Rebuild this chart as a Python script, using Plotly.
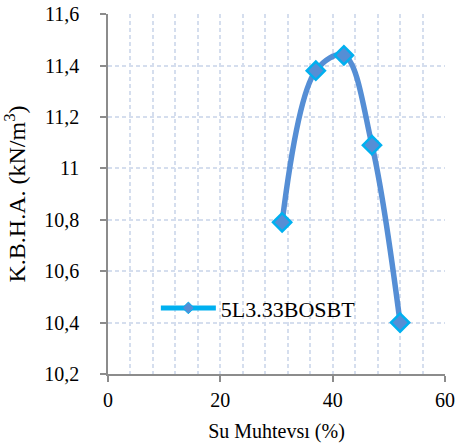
import plotly.graph_objects as go

water_content = [31, 37, 42, 47, 52]
unit_weight = [10.79, 11.38, 11.44, 11.09, 10.40]
series_name = "5L3.33BOSBT"
x_title = "Su Muhtevsı (%)"
y_title = "K.B.H.A. (kN/m<sup>3</sup>)"
x_ticks = [0, 20, 40, 60]
y_ticks = [10.2, 10.4, 10.6, 10.8, 11.0, 11.2, 11.4, 11.6]

LINE = "#558ED5"
MARK = "#00B0F0"
GRID = "#D5DEEE"
AXIS = "#8C8C8C"
FONT = "Liberation Serif"

fig = go.Figure()
fig.add_trace(go.Scatter(
    x=water_content, y=unit_weight, mode="lines+markers",
    line=dict(color=LINE, width=5.5, shape="spline", smoothing=1.0),
    marker=dict(symbol="diamond", size=14, color=LINE, line=dict(color=MARK, width=2.5)),
    showlegend=False, name=series_name,
))
fig.add_trace(go.Scatter(
    x=[None], y=[None], mode="lines+markers", name=series_name,
    line=dict(color=MARK, width=5),
    marker=dict(symbol="diamond", size=9, color=LINE, line=dict(color=MARK, width=1)),
))

fig.update_layout(
    width=466, height=448,
    margin=dict(l=108, r=21, t=14, b=74, autoexpand=False),
    paper_bgcolor="white", plot_bgcolor="white",
    separators=", ",
    font=dict(family=FONT, size=20, color="black"),
    legend=dict(x=0.142, y=0.183, xanchor="left", yanchor="middle",
                bgcolor="rgba(0,0,0,0)", font=dict(family=FONT, size=22, color="black"), itemwidth=55),
    xaxis=dict(
        range=[0, 60], tickvals=x_ticks, showgrid=True, automargin=False,
        gridcolor=GRID, griddash="4px,3px", gridwidth=1.5,
        minor=dict(dtick=4, tick0=0, showgrid=True, gridcolor=GRID, griddash="4px,3px", gridwidth=1.5),
        showline=True, linecolor=AXIS, linewidth=1.5,
        ticks="outside", ticklen=6, tickcolor=AXIS, tickwidth=1.5,
        tickfont=dict(family=FONT, size=20, color="black"),
        zeroline=False, ticklabelstandoff=1, ticklabeloverflow="allow",
        title=dict(text=x_title, standoff=14, font=dict(family=FONT, size=20, color="black")),
    ),
    yaxis=dict(
        range=[10.2, 11.6005], tickvals=y_ticks, showgrid=True, automargin=False,
        gridcolor=GRID, griddash="4px,3px", gridwidth=1.5,
        showline=True, linecolor=AXIS, linewidth=1.5,
        ticks="outside", ticklen=6, tickcolor=AXIS, tickwidth=1.5,
        tickfont=dict(family=FONT, size=20, color="black"),
        zeroline=False, ticklabelstandoff=17, ticklabeloverflow="allow",
        title=dict(text=y_title, standoff=14, font=dict(family=FONT, size=24, color="black")),
    ),
)

fig.write_html("out.html", config={"displayModeBar": False},
               post_script="document.body.style.margin='0';")
